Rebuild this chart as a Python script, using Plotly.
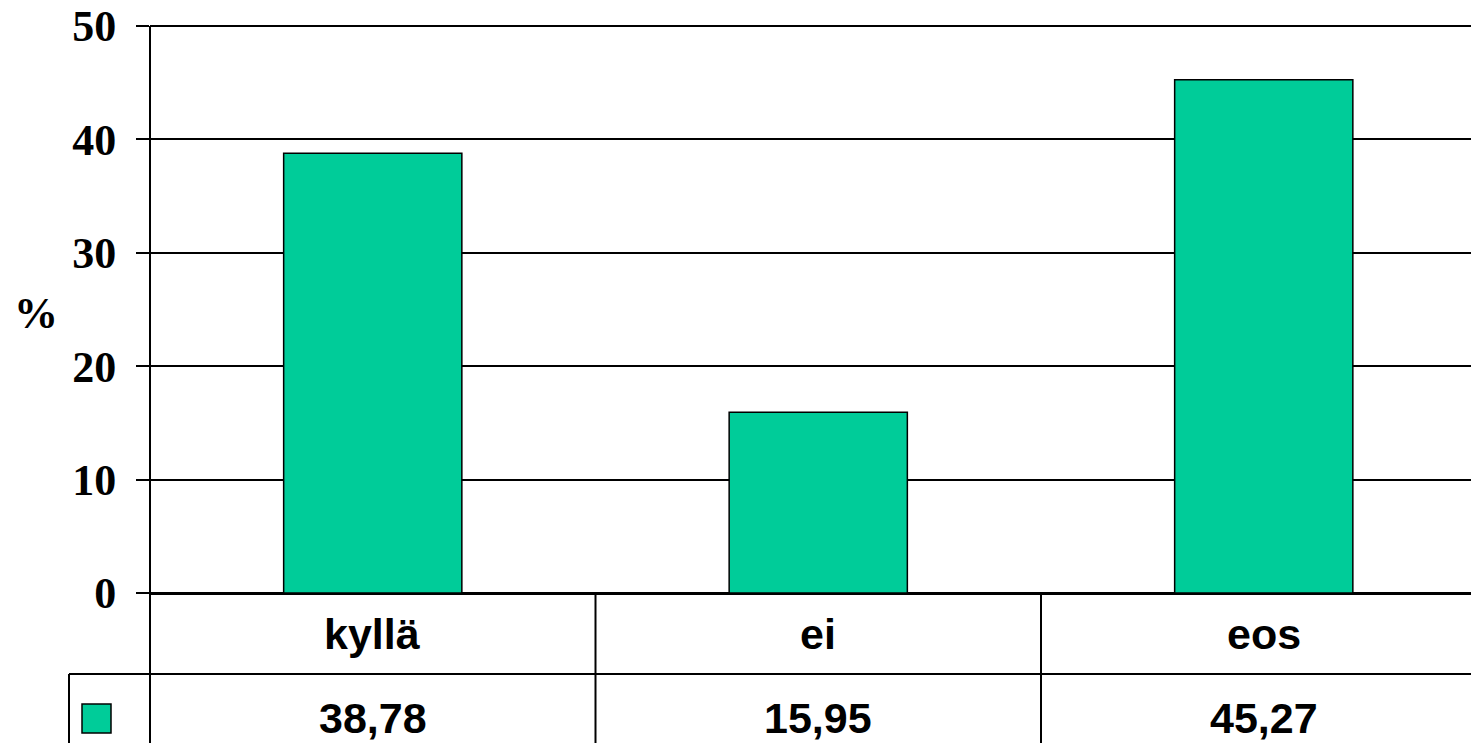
import plotly.graph_objects as go

# ---------------- DATA ----------------
categories = ["kyllä", "ei", "eos"]
values = [38.78, 15.95, 45.27]
y_ticks = [0, 10, 20, 30, 40, 50]

BAR_COLOR = "#00CC99"
SERIF = "Liberation Serif, Times New Roman, serif"
SANS = "Liberation Sans, Arial, sans-serif"

# page body has an 8px margin, so the figure is drawn 8px in from the corner
OFF = 8
W, H = 1479 - OFF, 743 - OFF
# reference: y=0 at screen 593, y=50 at screen 26, plot starts at x=150
PX_PER_UNIT = (593 - 26) / 50
L, T = 150 - OFF, 4
B = H - (593 - OFF)
plot_w = W - L
plot_h = H - T - B
y_top = plot_h / PX_PER_UNIT  # a little headroom above 50 so its gridline shows


def px_x(px):
    return (px - OFF - L) / plot_w


def px_y(py):
    return (H - B - (py - OFF)) / plot_h


fig = go.Figure()
fig.add_trace(go.Bar(
    x=categories, y=values, width=0.4,
    marker=dict(color=BAR_COLOR, line=dict(color="black", width=1.5)),
    showlegend=False, hoverinfo="skip",
))

# ---------- axis line and data table below the plot ----------
shapes = []
line = dict(color="black", width=2)
row_line = px_y(674)
bottom = px_y(760)
# y axis line, from 0 up to 50 only
shapes.append(dict(type="line", xref="paper", yref="y",
                   x0=0, x1=0, y0=0, y1=50, line=line))
# continuation of the y axis through the table
shapes.append(dict(type="line", xref="paper", yref="paper",
                   x0=0, x1=0, y0=0, y1=bottom, line=line))
# horizontal line between rows
shapes.append(dict(type="line", xref="paper", yref="paper",
                   x0=px_x(69), x1=1, y0=row_line, y1=row_line, line=line))
# left box edge for legend key
shapes.append(dict(type="line", xref="paper", yref="paper",
                   x0=px_x(69), x1=px_x(69), y0=row_line, y1=bottom, line=line))
# column separators between categories
for b in [0.5, 1.5]:
    shapes.append(dict(type="line", xref="x", yref="paper",
                       x0=b, x1=b, y0=0, y1=bottom, line=line))
# legend swatch
shapes.append(dict(type="rect", xref="paper", yref="paper",
                   x0=px_x(82), x1=px_x(111), y0=px_y(733), y1=px_y(704),
                   fillcolor=BAR_COLOR, line=dict(color="black", width=1.5)))

annotations = []
for c, v in zip(categories, values):
    annotations.append(dict(x=c, xref="x", y=px_y(634), yref="paper",
                            text=c, showarrow=False, yanchor="middle",
                            font=dict(family=SANS, size=43, color="black", weight="bold")))
    annotations.append(dict(x=c, xref="x", y=px_y(718), yref="paper",
                            text=f"{v:.2f}".replace(".", ","), showarrow=False,
                            yanchor="middle",
                            font=dict(family=SANS, size=43, color="black", weight="bold")))

# "%" axis title
annotations.append(dict(x=px_x(36), xref="paper", y=px_y(313), yref="paper",
                        text="%", showarrow=False, xanchor="center", yanchor="middle",
                        font=dict(family=SERIF, size=44, color="black", weight="bold")))

fig.update_layout(
    width=W, height=H,
    margin=dict(l=L, r=0, t=T, b=B, autoexpand=False),
    plot_bgcolor="white", paper_bgcolor="white",
    shapes=shapes, annotations=annotations,
    xaxis=dict(
        range=[-0.5, -0.5 + plot_w / 445.5], automargin=False,
        showticklabels=False, showgrid=False, zeroline=False,
        showline=True, linecolor="black", linewidth=2, ticks="",
    ),
    yaxis=dict(
        range=[0, y_top], tickvals=y_ticks, automargin=False,
        showgrid=True, gridcolor="black", gridwidth=2,
        zeroline=True, zerolinecolor="black", zerolinewidth=2,
        showline=False,
        ticks="outside", ticklen=13, tickwidth=2, tickcolor="black",
        ticklabelstandoff=11, ticklabeloverflow="allow",
        tickfont=dict(family=SERIF, size=44, color="black", weight="bold"),
    ),
    bargap=0.6,
)

fig.write_html("out.html")
